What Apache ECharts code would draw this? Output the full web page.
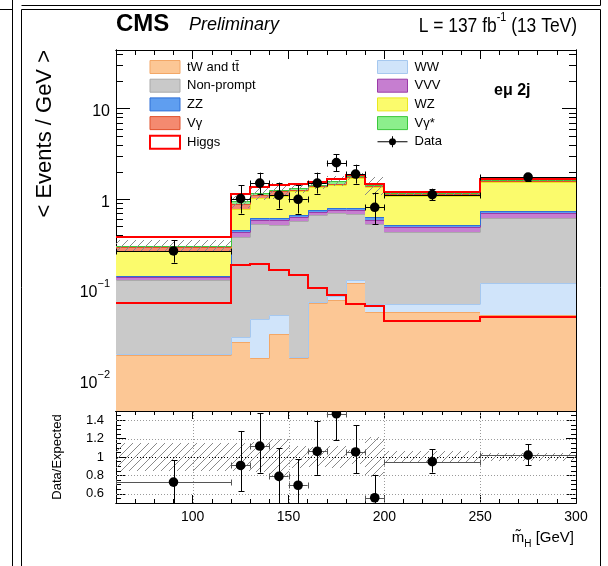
<!DOCTYPE html>
<html>
<head>
<meta charset="utf-8">
<title>eμ 2j: events per GeV versus reconstructed Higgs mass</title>
<script src="https://cdn.jsdelivr.net/npm/echarts@6/dist/echarts.min.js"></script>
<style>
  html, body { margin: 0; padding: 0; background: #fff; }
  #chart { width: 608px; height: 566px; }
</style>
</head>
<body>
<div id="chart"></div>
<script>
// Bin edges of the reconstructed Higgs mass, GeV
const binEdges = [60, 120, 130, 140, 150, 160, 170, 180, 190, 200, 250, 300];

// Expected yields per process, < events / GeV >, one value per bin
const tWtt       = [0.0191, 0.0267, 0.0175, 0.0325, 0.0178, 0.0708, 0.077, 0.119, 0.0572, 0.0572, 0.0526];
const ww         = [0.0005, 0.0036, 0.0297, 0.0197, 0.0003, 0.003, 0.0082, 0.009, 0.0118, 0.0118, 0.068];
const nonPrompt  = [0.1084, 0.358, 0.483, 0.469, 0.561, 0.592, 0.616, 0.556, 0.471, 0.367, 0.507];
const vvv        = [0.010, 0.048, 0.067, 0.073, 0.054, 0.066, 0.065, 0.072, 0.054, 0.059, 0.078];
const zz         = [0.006, 0.027, 0.031, 0.023, 0.033, 0.038, 0.044, 0.040, 0.044, 0.022, 0.037];
const wz         = [0.127, 0.327, 0.398, 0.476, 0.559, 0.586, 0.617, 0.930, 0.720, 0.576, 0.808];
const vGamma     = [0.027, 0.107, 0.100, 0.130, 0.045, 0.034, 0.040, 0.024, 0.030, 0.042, 0.029];
const vGammaStar = [0.009, 0.053, 0.050, 0.052, 0.070, 0.055, 0.130, 0.043, 0.040, 0.029, 0.060];
const higgs      = [0.072, 0.189, 0.192, 0.165, 0.145, 0.105, 0.0874, 0.069, 0.066, 0.0455, 0.0496];

// Relative uncertainty of the background prediction per bin
const bkgUnc = [0.15, 0.15, 0.16, 0.20, 0.12, 0.11, 0.12, 0.08, 0.22, 0.07, 0.04];

// Observed data, < events / GeV >, with the ends of the error bars
const dataVal = [0.269, 1.018, 1.51, 1.107, 1.00, 1.51, 2.54, 1.90, 0.816, 1.127, 1.76];
const dataHi  = [0.353, 1.427, 1.97, 1.53, 1.427, 1.97, 3.13, 2.41, 1.185, 1.31, 1.92];
const dataLo  = [0.200, 0.696, 1.155, 0.79, 0.696, 1.155, 2.05, 1.49, 0.53, 0.975, 1.59];

// Data / expected ratio with the ends of its error bars
const ratioVal = [0.727, 0.908, 1.119, 0.789, 0.693, 1.061, 1.47, 1.055, 0.557, 0.949, 1.02];
const ratioHi  = [0.966, 1.283, 1.477, 1.095, 0.973, 1.395, 1.80, 1.344, 0.806, 1.085, 1.136];
const ratioLo  = [0.48, 0.629, 0.83, 0.48, 0.41, 0.806, 1.18, 0.823, 0.30, 0.83, 0.908];

// Axis ticks and reference lines
const massMajorTicks = [100, 150, 200, 250, 300];
const massMinorTicks = [60, 70, 80, 90, 110, 120, 130, 140, 160, 170, 180, 190, 210, 220, 230, 240, 260, 270, 280, 290];
const yieldMajorTicks = [0.01, 0.1, 1, 10];
const yieldMinorTicks = [0.005, 0.006, 0.007, 0.008, 0.009, 0.02, 0.03, 0.04, 0.05, 0.06, 0.07, 0.08, 0.09,
                         0.2, 0.3, 0.4, 0.5, 0.6, 0.7, 0.8, 0.9, 2, 3, 4, 5, 6, 7, 8, 9, 20, 30, 40];
const ratioMajorTicks = [0.6, 0.8, 1, 1.2, 1.4];
const ratioMinorTicks = [0.55, 0.65, 0.7, 0.75, 0.85, 0.9, 0.95, 1.05, 1.1, 1.15, 1.25, 1.3, 1.35, 1.45];
const ratioGridY = [0.6, 0.8, 1, 1.2, 1.4];
const ratioGridX = [100, 150, 200, 250];

const FONT = '"Liberation Sans", Helvetica, Arial, sans-serif';
const Y_MIN = 0.0046, Y_MAX = 44.5;
const R_MIN = 0.5, R_MAX = 1.5;

const processes = [
  { name: 'tW and t\u0074\u0304', values: tWtt,       fill: '#fcc795', edge: '#f3a766' },
  { name: 'WW',                   values: ww,         fill: '#d0e4fa', edge: '#a6c8ef' },
  { name: 'Non-prompt',           values: nonPrompt,  fill: '#c9c9c9', edge: '#aaaaaa' },
  { name: 'VVV',                  values: vvv,        fill: '#c67ed0', edge: '#9a3aa8' },
  { name: 'ZZ',                   values: zz,         fill: '#5f9ef0', edge: '#2f6fd6' },
  { name: 'WZ',                   values: wz,         fill: '#fbfb6c', edge: '#e8e820' },
  { name: 'V\u03b3',              values: vGamma,     fill: '#f48a70', edge: '#e0502c' },
  { name: 'V\u03b3*',             values: vGammaStar, fill: '#8cef8c', edge: '#3cc83c' }
];

// Diagonal hatching used for the uncertainty bands
function hatch(color, step) {
  const c = document.createElement('canvas');
  c.width = step; c.height = step;
  const g = c.getContext('2d');
  g.strokeStyle = color; g.lineWidth = 1;
  g.beginPath();
  g.moveTo(0, step); g.lineTo(step, 0);
  g.moveTo(-1, 1); g.lineTo(1, -1);
  g.moveTo(step - 1, step + 1); g.lineTo(step + 1, step - 1);
  g.stroke();
  return { image: c, repeat: 'repeat' };
}
const hatchFill = hatch('#8a8a8a', 8);

const crisp = v => Math.round(v) + 0.5;
const snap = v => Math.round(v);
const nBins = binEdges.length - 1;

// Rectangle between two data-space corners, snapped to whole pixels
function binRect(api, x0, x1, lo, hi) {
  const a = api.coord([x0, hi]);
  const b = api.coord([x1, lo]);
  const x = snap(a[0]), y = snap(a[1]);
  return { x, y, width: snap(b[0]) - x, height: snap(b[1]) - y };
}

// Cumulative stack
let running = new Array(nBins).fill(0);
const stackSeries = processes.map(p => {
  const lo = running.slice();
  running = running.map((v, i) => v + p.values[i]);
  const hi = running.slice();
  return {
    type: 'custom', name: p.name, xAxisIndex: 0, yAxisIndex: 0, clip: true,
    itemStyle: { color: p.fill, borderColor: p.edge },
    encode: { x: [0, 1], y: [2, 3] },
    data: hi.map((h, i) => [binEdges[i], binEdges[i + 1], Math.max(lo[i], Y_MIN), h]),
    renderItem: (params, api) => {
      const i = params.dataIndex;
      const r = binRect(api, api.value(0), api.value(1), api.value(2), api.value(3));
      const prev = api.coord([api.value(0), i > 0 ? hi[i - 1] : hi[i]]);
      const top = r.y + 0.5;
      return {
        type: 'group', children: [
          { type: 'rect', shape: r, style: { fill: p.fill } },
          { type: 'polyline',
            shape: { points: [[r.x + 0.5, snap(prev[1]) + 0.5], [r.x + 0.5, top], [r.x + r.width, top]] },
            style: { stroke: p.edge, lineWidth: 1, fill: null } }
        ]
      };
    }
  };
});
const bkgTotal = running.slice();
const sigTotal = bkgTotal.map((v, i) => v + higgs[i]);

function bandSeries(name, xi, yi, centre) {
  return {
    type: 'custom', name, xAxisIndex: xi, yAxisIndex: yi, clip: true, silent: true,
    encode: { x: [0, 1], y: [2, 3] },
    data: centre.map((c, i) => [binEdges[i], binEdges[i + 1], c * (1 - bkgUnc[i]), c * (1 + bkgUnc[i])]),
    renderItem: (params, api) => ({
      type: 'rect', shape: binRect(api, api.value(0), api.value(1), api.value(2), api.value(3)),
      style: { fill: hatchFill }
    })
  };
}

function stepSeries(name, values) {
  return {
    type: 'custom', name, xAxisIndex: 0, yAxisIndex: 0, clip: true,
    itemStyle: { color: '#ffffff', borderColor: '#ff0000' },
    encode: { x: [0, 1], y: 2 },
    data: values.map((v, i) => [binEdges[i], binEdges[i + 1], v]),
    renderItem: (params, api) => {
      const i = params.dataIndex;
      const a = api.coord([api.value(0), api.value(2)]);
      const b = api.coord([api.value(1), api.value(2)]);
      const prev = api.coord([api.value(0), i > 0 ? values[i - 1] : values[i]]);
      const x0 = snap(a[0]), x1 = snap(b[0]);
      return { type: 'polyline',
               shape: { points: [[x0, snap(prev[1])], [x0, snap(a[1])], [x1, snap(a[1])]] },
               style: { stroke: '#ff0000', lineWidth: 2, fill: null, lineCap: 'square', lineJoin: 'miter' } };
    }
  };
}

function pointSeries(name, xi, yi, vals, his, los, hColor) {
  return {
    type: 'custom', name, xAxisIndex: xi, yAxisIndex: yi, clip: true,
    itemStyle: { color: '#000' },
    encode: { x: [0, 1], y: [2, 3, 4] },
    data: vals.map((v, i) => [binEdges[i], binEdges[i + 1], v, los[i], his[i]]),
    renderItem: (params, api) => {
      const x0 = api.value(0), x1 = api.value(1), xc = (x0 + x1) / 2;
      const c = api.coord([xc, api.value(2)]);
      const l = api.coord([x0, api.value(2)]);
      const r = api.coord([x1, api.value(2)]);
      const lo = api.coord([xc, api.value(3)]);
      const hi = api.coord([xc, api.value(4)]);
      const cx = crisp(c[0]), cy = crisp(c[1]), cap = 3;
      const seg = (x1_, y1_, x2_, y2_, col) => ({ type: 'line', shape: { x1: x1_, y1: y1_, x2: x2_, y2: y2_ },
                                               style: { stroke: col || '#000', lineWidth: 1 } });
      return {
        type: 'group', children: [
          seg(l[0], cy, r[0], cy, hColor),
          seg(crisp(l[0]), cy - cap, crisp(l[0]), cy + cap, hColor),
          seg(crisp(r[0]), cy - cap, crisp(r[0]), cy + cap, hColor),
          seg(cx, hi[1], cx, lo[1]),
          seg(cx - cap, crisp(hi[1]), cx + cap, crisp(hi[1])),
          seg(cx - cap, crisp(lo[1]), cx + cap, crisp(lo[1])),
          { type: 'circle', shape: { cx: c[0], cy: c[1], r: 4.8 }, style: { fill: '#000' } }
        ]
      };
    }
  };
}

// Dotted reference lines of the ratio panel
const ratioGridSeries = {
  type: 'custom', name: 'ratio-grid', xAxisIndex: 4, yAxisIndex: 4, silent: true, clip: true,
  data: ratioGridY.map(v => [0, v]).concat(ratioGridX.map(v => [1, v])),
  renderItem: (params, api) => {
    const kind = api.value(0), v = api.value(1);
    let a, b;
    if (kind === 0) { a = api.coord([60, v]); b = api.coord([300, v]); a[1] = b[1] = crisp(a[1]); }
    else { a = api.coord([v, R_MIN]); b = api.coord([v, R_MAX]); a[0] = b[0] = crisp(a[0]); }
    const strong = kind === 0 && v === 1;
    return { type: 'line', shape: { x1: a[0], y1: a[1], x2: b[0], y2: b[1] },
             style: { stroke: strong ? '#000' : '#9a9a9a', lineWidth: 1, lineDash: [1, 2] } };
  }
};

// Axes: every frame edge carries major and minor ticks pointing inwards
function xAx(grid, position, ticks, len, labels) {
  return {
    type: 'value', gridIndex: grid, position, min: 60, max: 300,
    axisLine: { show: true, onZero: false, lineStyle: { color: '#000', width: 1 } },
    axisTick: { show: true, inside: true, length: len, customValues: ticks, lineStyle: { color: '#000', width: 1 } },
    axisLabel: labels ? { show: true, customValues: ticks, margin: 7, color: '#000', fontFamily: FONT, fontSize: 14 }
                      : { show: false },
    splitLine: { show: false }
  };
}
function yLog(position, ticks, len, labels) {
  return {
    type: 'log', logBase: 10, gridIndex: 0, position, min: Y_MIN, max: Y_MAX,
    axisLine: { show: true, onZero: false, lineStyle: { color: '#000', width: 1 } },
    axisTick: { show: true, inside: true, length: len, customValues: ticks, lineStyle: { color: '#000', width: 1 } },
    axisLabel: labels ? {
      show: true, customValues: ticks, margin: 6, color: '#000', fontFamily: FONT,
      formatter: v => {
        const e = Math.round(Math.log10(v));
        if (e === 0) return '{b|1}';
        if (e === 1) return '{b|10}';
        return '{b|10}{s|' + (e < 0 ? '\u2212' : '') + Math.abs(e) + '}';
      },
      rich: {
        b: { fontFamily: FONT, fontSize: 16, color: '#000', lineHeight: 22, verticalAlign: 'bottom' },
        s: { fontFamily: FONT, fontSize: 11, color: '#000', lineHeight: 11, verticalAlign: 'top' }
      }
    } : { show: false },
    splitLine: { show: false }
  };
}
function yRatio(position, ticks, len, labels) {
  return {
    type: 'value', gridIndex: 1, position, min: R_MIN, max: R_MAX,
    axisLine: { show: true, onZero: false, lineStyle: { color: '#000', width: 1 } },
    axisTick: { show: true, inside: true, length: len, customValues: ticks, lineStyle: { color: '#000', width: 1 } },
    axisLabel: labels ? { show: true, customValues: ticks, margin: 12, color: '#000', fontFamily: FONT, fontSize: 13,
                          formatter: v => String(+v.toFixed(2)) }
                      : { show: false },
    splitLine: { show: false }
  };
}

const xAxes = [
  xAx(0, 'bottom', massMajorTicks, 9, false), xAx(0, 'bottom', massMinorTicks, 5, false),
  xAx(0, 'top', massMajorTicks, 9, false),    xAx(0, 'top', massMinorTicks, 5, false),
  xAx(1, 'bottom', massMajorTicks, 8, true),  xAx(1, 'bottom', massMinorTicks, 4, false),
  xAx(1, 'top', massMajorTicks, 8, false),    xAx(1, 'top', massMinorTicks, 4, false)
];
const yAxes = [
  yLog('left', yieldMajorTicks, 14, true),  yLog('left', yieldMinorTicks, 7, false),
  yLog('right', yieldMajorTicks, 14, false), yLog('right', yieldMinorTicks, 7, false),
  yRatio('left', ratioMajorTicks, 10, true), yRatio('left', ratioMinorTicks, 5, false),
  yRatio('right', ratioMajorTicks, 10, false), yRatio('right', ratioMinorTicks, 5, false)
];

const legendText = { fontFamily: FONT, fontSize: 13, color: '#000', lineHeight: 14, padding: [0, 0, 0, 2] };
const procItem = name => {
  const p = processes.find(q => q.name === name);
  return { name, icon: 'rect', itemStyle: { color: p.fill, borderColor: p.edge, borderWidth: 1 } };
};
const dataIcon = 'path://M0,6h30v1H0z M14.5,1h1v11h-1z M15,3a3.5,3.5 0 1,1 -0.01,0z';

const option = {
  animation: false,
  backgroundColor: '#ffffff',
  grid: [
    { left: 116, top: 50, width: 460, height: 361 },
    { left: 116, top: 411, width: 460, height: 92 }
  ],
  xAxis: xAxes,
  yAxis: yAxes,
  legend: [
    { orient: 'vertical', left: 144, top: 55, itemWidth: 30, itemHeight: 13, itemGap: 4.7,
      selectedMode: false, textStyle: legendText,
      data: [procItem('tW and t\u0074\u0304'), procItem('Non-prompt'), procItem('ZZ'), procItem('V\u03b3'),
             { name: 'Higgs', icon: 'rect', itemStyle: { color: '#ffffff', borderColor: '#ff0000', borderWidth: 2 } }] },
    { orient: 'vertical', left: 372, top: 55, itemWidth: 30, itemHeight: 13, itemGap: 4.7,
      selectedMode: false, textStyle: legendText,
      data: [procItem('WW'), procItem('VVV'), procItem('WZ'), procItem('V\u03b3*'),
             { name: 'Data', icon: dataIcon, itemStyle: { color: '#000', borderWidth: 0 } }] }
  ],
  graphic: [
    // page frame
    { type: 'polyline', shape: { points: [[12.5, 0], [12.5, 566]] }, style: { stroke: '#000', lineWidth: 1 }, silent: true },
    { type: 'polyline', shape: { points: [[0, 9.5], [12.5, 9.5]] }, style: { stroke: '#000', lineWidth: 1 }, silent: true },
    { type: 'polyline', shape: { points: [[21.5, 5.5], [600.5, 5.5], [600.5, 0]] }, style: { stroke: '#000', lineWidth: 1 }, silent: true },
    { type: 'polyline', shape: { points: [[21.5, 566], [21.5, 9.5], [600.5, 9.5], [600.5, 566]] }, style: { stroke: '#000', lineWidth: 1 }, silent: true },
    // headers
    { type: 'text', x: 116, y: 24, silent: true,
      style: { text: 'CMS', font: 'bold 24px ' + FONT, fill: '#000', textAlign: 'left', textVerticalAlign: 'middle' } },
    { type: 'text', x: 189, y: 25, silent: true,
      style: { text: 'Preliminary', font: 'italic 18px ' + FONT, fill: '#000', textAlign: 'left', textVerticalAlign: 'middle' } },
    { type: 'text', x: 577, y: 24, scaleX: 0.83, originX: 0, originY: 0, silent: true,
      style: { text: '{a|L = 137 fb}{s|-1}{a| (13 TeV)}', textAlign: 'right', textVerticalAlign: 'middle',
               rich: { a: { fontFamily: FONT, fontSize: 21, fill: '#000', lineHeight: 26, verticalAlign: 'bottom' },
                       s: { fontFamily: FONT, fontSize: 13, fill: '#000', lineHeight: 13, verticalAlign: 'top' } } } },
    { type: 'text', x: 494, y: 91, silent: true,
      style: { text: 'e\u03bc 2j', font: 'bold 16px ' + FONT, fill: '#000', textAlign: 'left', textVerticalAlign: 'middle' } },
    // axis titles
    { type: 'text', x: 45, y: 50, rotation: Math.PI / 2, silent: true,
      style: { text: '< Events / GeV >', font: '22px ' + FONT, fill: '#000', textAlign: 'right', textVerticalAlign: 'middle' } },
    { type: 'text', x: 57, y: 457, rotation: Math.PI / 2, silent: true,
      style: { text: 'Data/Expected', font: '13px ' + FONT, fill: '#000', textAlign: 'center', textVerticalAlign: 'middle' } },
    { type: 'text', x: 574, y: 540, silent: true,
      style: { text: '{m|m\u0303}{s|H}{m| [GeV]}', textAlign: 'right', textVerticalAlign: 'middle',
               rich: { m: { fontFamily: FONT, fontSize: 15, fill: '#000', lineHeight: 19, verticalAlign: 'top' },
                       s: { fontFamily: FONT, fontSize: 10, fill: '#000', lineHeight: 10, verticalAlign: 'bottom' } } } }
  ],
  series: [
    ...stackSeries,
    bandSeries('bkg-unc', 0, 0, bkgTotal),
    stepSeries('Higgs', sigTotal),
    stepSeries('Higgs', higgs),
    pointSeries('Data', 0, 0, dataVal, dataHi, dataLo, '#000'),
    ratioGridSeries,
    bandSeries('ratio-unc', 4, 4, bkgTotal.map(() => 1)),
    pointSeries('Ratio', 4, 4, ratioVal, ratioHi, ratioLo, '#555')
  ]
};

const chart = echarts.init(document.getElementById('chart'), null, { renderer: 'canvas' });
chart.setOption(option);
</script>
</body>
</html>
